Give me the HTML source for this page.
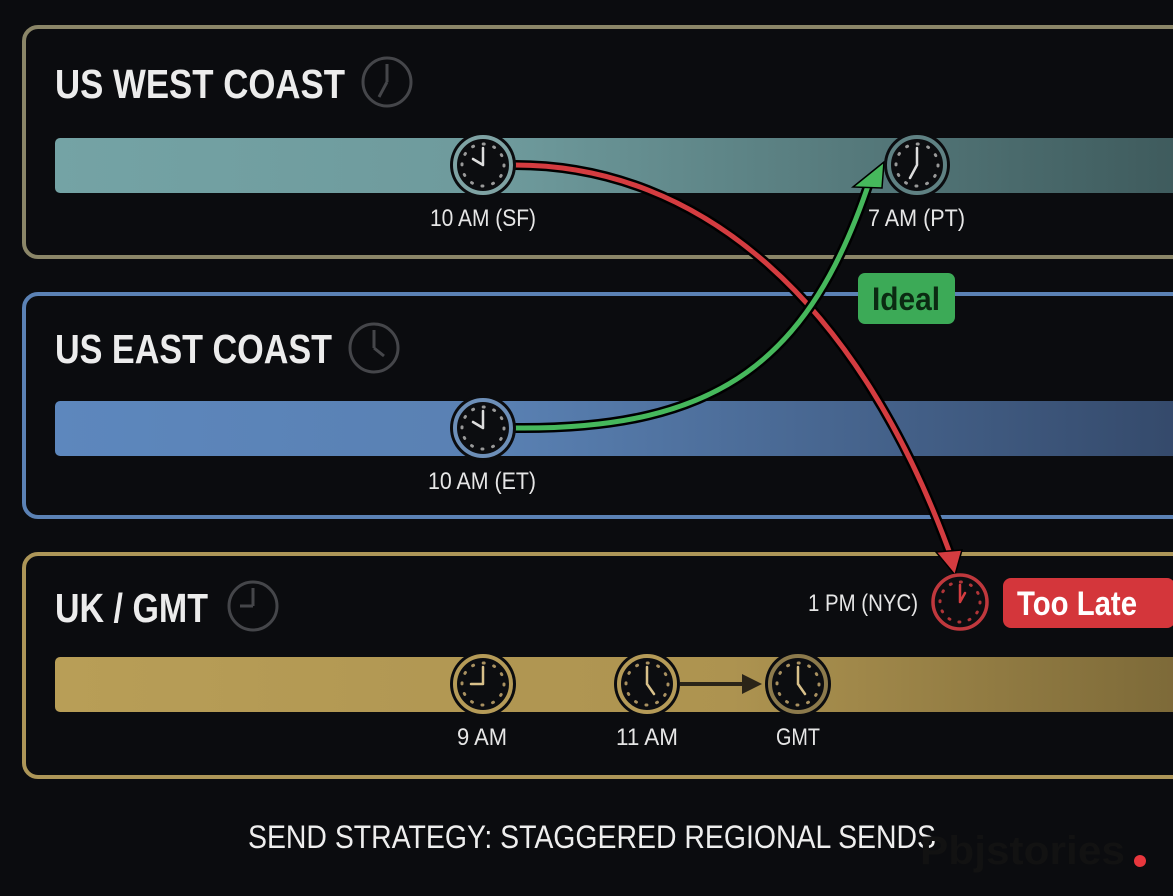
<!DOCTYPE html>
<html><head><meta charset="utf-8"><style>
html,body{margin:0;padding:0;background:#0b0c0f;}
svg{display:block}
.t{font-family:"Liberation Sans",sans-serif;}
</style></head><body>
<svg width="1173" height="896" viewBox="0 0 1173 896" xmlns="http://www.w3.org/2000/svg">
<defs>
<linearGradient id="gw" x1="0" x2="1"><stop offset="0" stop-color="#74a3a5"/><stop offset="0.4" stop-color="#6e9a9c"/><stop offset="1" stop-color="#3e5a5c"/></linearGradient>
<linearGradient id="ge" x1="0" x2="1"><stop offset="0" stop-color="#5d87bd"/><stop offset="0.4" stop-color="#5980b2"/><stop offset="1" stop-color="#34496a"/></linearGradient>
<linearGradient id="gu" x1="0" x2="1"><stop offset="0" stop-color="#b89e57"/><stop offset="0.6" stop-color="#ad9350"/><stop offset="1" stop-color="#7c6938"/></linearGradient>
</defs>
<rect width="1173" height="896" fill="#0b0c0f"/>
<rect x="24" y="27" width="1170" height="230" rx="14" fill="#0b0c0f" stroke="#8b8668" stroke-width="4"/>
<rect x="24" y="294" width="1170" height="223" rx="14" fill="#0b0c0f" stroke="#5b82b5" stroke-width="4"/>
<rect x="24" y="554" width="1170" height="223" rx="14" fill="#0b0c0f" stroke="#ad9658" stroke-width="4"/>
<rect x="55" y="138" width="1130" height="55" rx="5" fill="url(#gw)"/>
<rect x="55" y="401" width="1130" height="55" rx="5" fill="url(#ge)"/>
<rect x="55" y="657" width="1130" height="55" rx="5" fill="url(#gu)"/>
<g class="t" font-weight="bold" fill="#ececec" font-size="41">
<text x="55" y="98" textLength="290" lengthAdjust="spacingAndGlyphs">US WEST COAST</text>
<text x="55" y="363" textLength="277" lengthAdjust="spacingAndGlyphs">US EAST COAST</text>
<text x="55" y="622" textLength="153" lengthAdjust="spacingAndGlyphs">UK / GMT</text>
</g>
<g fill="none" stroke="#45464a" stroke-width="3">
<circle cx="387" cy="82" r="24"/><circle cx="374" cy="348" r="24"/><circle cx="253" cy="606" r="24"/>
<path d="M387 82 V64 M387 82 L379 97"/><path d="M374 348 V330 M374 348 L384 356"/><path d="M253 606 V588 M253 606 H240"/>
</g>
<path d="M515 165 C700 165 860 300 953 562" fill="none" stroke="#000" stroke-width="10"/>
<path d="M515 165 C700 165 860 300 953 562" fill="none" stroke="#d43c40" stroke-width="5"/>
<polygon points="936,552 962,550 955,575" fill="#d43c40" stroke="#000" stroke-width="1.5"/>
<path d="M515 428 C720 430 810 360 870 180" fill="none" stroke="#000" stroke-width="10"/>
<path d="M515 428 C720 430 810 360 870 180" fill="none" stroke="#46b85c" stroke-width="5"/>
<polygon points="884,162 853,187 882,188" fill="#46b85c" stroke="#000" stroke-width="1.5"/>
<line x1="680" y1="684" x2="745" y2="684" stroke="#2a2418" stroke-width="4"/>
<polygon points="742,674 762,684 742,694" fill="#2a2418"/>
<g stroke-linecap="round">
<g transform="translate(483,165)"><circle r="33" fill="#0b0c0f"/><circle r="28" fill="#0c0d10" stroke="#7fa3a4" stroke-width="4"/><circle r="21" fill="none" stroke="#999" stroke-width="3" stroke-dasharray="1 10"/><path d="M0 0 V-17 M0 0 L-10 -6" stroke="#ddd" stroke-width="2.5" fill="none"/></g>
<g transform="translate(917,165)"><circle r="33" fill="#0b0c0f"/><circle r="28" fill="#0c0d10" stroke="#5f8183" stroke-width="4"/><circle r="21" fill="none" stroke="#999" stroke-width="3" stroke-dasharray="1 10"/><path d="M0 0 V-17 M0 0 L-7 13" stroke="#ddd" stroke-width="2.5" fill="none"/></g>
<g transform="translate(483,428)"><circle r="33" fill="#0b0c0f"/><circle r="28" fill="#0c0d10" stroke="#6d8fb8" stroke-width="4"/><circle r="21" fill="none" stroke="#999" stroke-width="3" stroke-dasharray="1 10"/><path d="M0 0 V-17 M0 0 L-10 -6" stroke="#ddd" stroke-width="2.5" fill="none"/></g>
<g transform="translate(483,684)"><circle r="33" fill="#0b0c0f"/><circle r="28" fill="#0c0d10" stroke="#b59b58" stroke-width="4"/><circle r="21" fill="none" stroke="#a89060" stroke-width="3" stroke-dasharray="1 10"/><path d="M0 0 V-17 M0 0 H-12" stroke="#d8c08a" stroke-width="2.5" fill="none"/></g>
<g transform="translate(647,684)"><circle r="33" fill="#0b0c0f"/><circle r="28" fill="#0c0d10" stroke="#b59b58" stroke-width="4"/><circle r="21" fill="none" stroke="#a89060" stroke-width="3" stroke-dasharray="1 10"/><path d="M0 0 V-17 M0 0 L7 10" stroke="#d8c08a" stroke-width="2.5" fill="none"/></g>
<g transform="translate(798,684)"><circle r="33" fill="#0b0c0f"/><circle r="28" fill="#0c0d10" stroke="#8c7a4c" stroke-width="4"/><circle r="21" fill="none" stroke="#a89060" stroke-width="3" stroke-dasharray="1 10"/><path d="M0 0 V-17 M0 0 L7 10" stroke="#d8c08a" stroke-width="2.5" fill="none"/></g>
<g transform="translate(960,602)"><circle r="27" fill="#0c0d10" stroke="#c0383d" stroke-width="3.5"/><circle r="20" fill="none" stroke="#b03538" stroke-width="3" stroke-dasharray="1 9.5"/><path d="M0 0 V-17 M0 0 L5 -9" stroke="#d43c40" stroke-width="2.5" fill="none"/></g>
</g>
<g class="t" fill="#e6e6e6" font-size="24" lengthAdjust="spacingAndGlyphs">
<text x="430" y="226" textLength="106" lengthAdjust="spacingAndGlyphs">10 AM (SF)</text>
<text x="868" y="226" textLength="97" lengthAdjust="spacingAndGlyphs">7 AM (PT)</text>
<text x="428" y="489" textLength="108" lengthAdjust="spacingAndGlyphs">10 AM (ET)</text>
<text x="457" y="745" textLength="50" lengthAdjust="spacingAndGlyphs">9 AM</text>
<text x="616" y="745" textLength="62" lengthAdjust="spacingAndGlyphs">11 AM</text>
<text x="776" y="745" textLength="44" lengthAdjust="spacingAndGlyphs">GMT</text>
<text x="808" y="611" textLength="110" lengthAdjust="spacingAndGlyphs">1 PM (NYC)</text>
</g>
<rect x="858" y="273" width="97" height="51" rx="7" fill="#3caa57"/>
<text x="872" y="310" class="t" font-weight="bold" font-size="32" fill="#0b2a12" textLength="68" lengthAdjust="spacingAndGlyphs">Ideal</text>
<rect x="1003" y="578" width="172" height="50" rx="8" fill="#d4363b"/>
<text x="1017" y="615" class="t" font-weight="bold" font-size="34" fill="#fff" textLength="120" lengthAdjust="spacingAndGlyphs">Too Late</text>
<text x="248" y="848" class="t" font-size="32" fill="#eee" textLength="688" lengthAdjust="spacingAndGlyphs">SEND STRATEGY: STAGGERED REGIONAL SENDS</text>
<text x="920" y="864" class="t" font-weight="bold" font-size="40" fill="#121212" textLength="205" lengthAdjust="spacingAndGlyphs">Pbjstories</text>
<circle cx="1140" cy="861" r="6" fill="#e8373d"/>
</svg>
</body></html>
